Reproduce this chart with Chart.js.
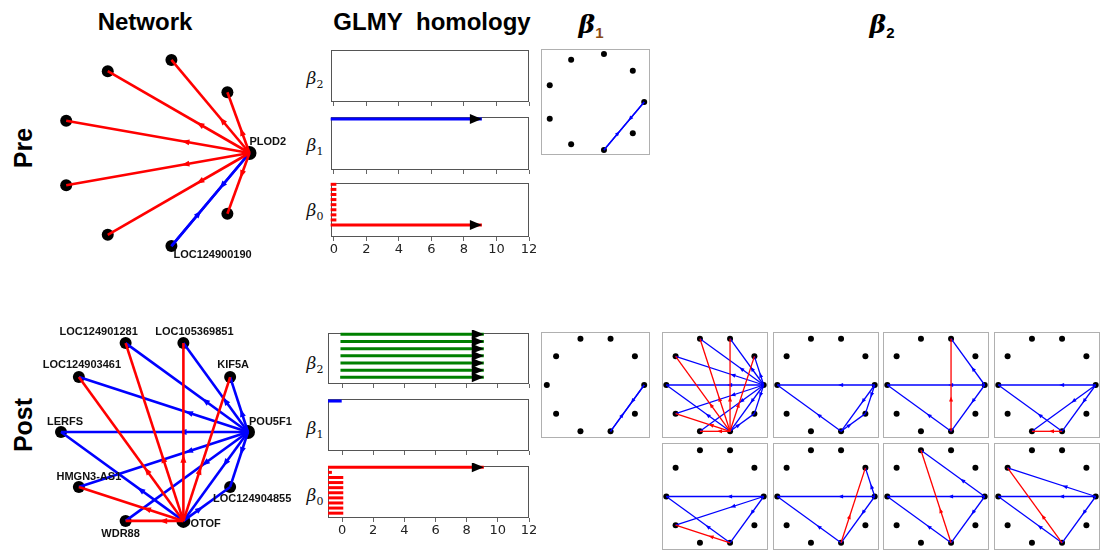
<!DOCTYPE html>
<html><head><meta charset="utf-8">
<script src="https://cdn.jsdelivr.net/npm/chart.js@4.4.1/dist/chart.umd.min.js"></script>
<style>
html,body{margin:0;padding:0;background:#fff}
#fig{position:relative;width:1102px;height:556px;overflow:hidden;font-family:"Liberation Sans",Arial,sans-serif}
.pane{position:absolute}
.pane canvas{display:block}
.txt{position:absolute;white-space:nowrap;transform:translate(-50%,-50%);color:#000;line-height:1}
.ttl{font-weight:bold;font-size:24px}
.row{font-weight:bold;font-size:25px;transform:translate(-50%,-50%) rotate(-90deg)}
.blab{font-family:"DejaVu Serif",serif;font-style:italic;font-size:17px;color:#111}
.blab sub{font-style:normal;font-size:11px;vertical-align:-4px}
.bt{font-family:"DejaVu Serif",serif;font-weight:bold;font-style:italic;font-size:25px}
.bt sub{font-family:"Liberation Sans",Arial,sans-serif;font-style:normal;font-size:15px;vertical-align:-5px}
</style></head><body><div id="fig">
<div class="txt ttl" style="left:145px;top:22px">Network</div>
<div class="txt ttl" style="left:432px;top:22px">GLMY&nbsp; homology</div>
<div class="txt bt" style="left:591px;top:26px">β<sub style="color:#8a4a12">1</sub></div>
<div class="txt bt" style="left:882px;top:26px">β<sub>2</sub></div>
<div class="txt row" style="left:23px;top:148px">Pre</div>
<div class="txt row" style="left:23px;top:425px">Post</div>
<div class="txt blab" style="left:315px;top:80px">β<sub>2</sub></div>
<div class="txt blab" style="left:315px;top:147px">β<sub>1</sub></div>
<div class="txt blab" style="left:315px;top:212px">β<sub>0</sub></div>
<div class="txt blab" style="left:315px;top:365px">β<sub>2</sub></div>
<div class="txt blab" style="left:315px;top:430px">β<sub>1</sub></div>
<div class="txt blab" style="left:315px;top:497px">β<sub>0</sub></div>
</div>
<script>
// ---------------- data ----------------
const INF_DRAW = 9.1;            // where an infinite bar is drawn to
const xTickValues = [0, 2, 4, 6, 8, 10, 12];

// Pre network: 9 nodes on a circle, index 0 at angle 0
const preNodeNames = ['PLOD2', '', '', '', '', '', '', 'LOC124900190', ''];
const preHubs = [0];
const preEdges = [[0,1,'red'],[0,2,'red'],[0,3,'red'],[0,4,'red'],[0,5,'red'],[0,6,'red'],[0,8,'red'],[0,7,'blue'],[7,0,'blue']];

// Post network: 10 nodes
const postNodeNames = ['POU5F1','KIF5A','LOC105369851','LOC124901281','LOC124903461','LERFS','HMGN3-AS1','WDR88','OTOF','LOC124904855'];
const postHubs = [0, 8];
const postEdges = [
  [0,1,'blue'],[0,2,'blue'],[0,3,'blue'],[0,4,'blue'],[0,5,'blue'],[0,6,'blue'],[0,7,'blue'],[0,8,'blue'],[0,9,'blue'],
  [8,5,'blue'],[8,9,'blue'],
  [8,3,'red'],[8,2,'red'],[8,1,'red'],[8,4,'red'],[8,6,'red'],[8,7,'red']
];

// barcodes: [birth, death]
const preBeta2 = [];
const preBeta1 = [[-0.2, Infinity]];
const preBeta0 = [[-0.2,0.15],[-0.2,0.15],[-0.2,0.15],[-0.2,0.15],[-0.2,0.15],[-0.2,0.15],[-0.2,0.15],[-0.2,0.15],[-0.2,Infinity]];
const postBeta2 = [[-0.1,Infinity],[-0.1,Infinity],[-0.1,Infinity],[-0.1,Infinity],[-0.1,Infinity],[-0.1,Infinity],[-0.12,Infinity]];
const postBeta1 = [[-0.9, -0.02]];
const postBeta0 = [[-0.9,Infinity],[-0.9,-0.65],[-0.9,0.08],[-0.9,0.08],[-0.9,0.08],[-0.9,0.08],[-0.9,0.08],[-0.9,0.08],[-0.9,0.08],[-0.9,0.08]];

// representative cycles
const preBeta1Cycle = [[0,7,'blue'],[7,0,'blue']];
const postBeta1Cycle = [[0,8,'blue'],[8,0,'blue']];
const postBeta2Cycles = [
  postEdges,
  [[0,5,'blue'],[8,5,'blue'],[0,8,'blue'],[8,9,'blue'],[0,9,'blue']],
  [[0,5,'blue'],[8,5,'blue'],[0,2,'blue'],[0,8,'blue'],[8,2,'red']],
  [[0,5,'blue'],[8,5,'blue'],[0,8,'blue'],[0,7,'blue'],[8,7,'red']],
  [[0,5,'blue'],[8,5,'blue'],[0,8,'blue'],[0,6,'blue'],[8,6,'red']],
  [[0,5,'blue'],[8,5,'blue'],[0,8,'blue'],[0,1,'blue'],[8,1,'red']],
  [[0,5,'blue'],[8,5,'blue'],[0,8,'blue'],[0,3,'blue'],[8,3,'red']],
  [[0,5,'blue'],[8,5,'blue'],[0,8,'blue'],[0,4,'blue'],[8,4,'red']]
];

// ---------------- plugins ----------------
Chart.defaults.animation = false;
Chart.defaults.font.family = '"DejaVu Sans", sans-serif';

const markPlugin = {
  id: 'marks',
  afterDatasetDraw(chart, args) {
    const ds = chart.data.datasets[args.index];
    const pts = args.meta.data;
    const ctx = chart.ctx;
    if (ds.arrowAt !== undefined && pts.length === 2) {
      const a = pts[0], b = pts[1];
      const dx = b.x - a.x, dy = b.y - a.y, len = Math.hypot(dx, dy) || 1;
      const ux = dx / len, uy = dy / len;
      const px = a.x + dx * ds.arrowAt, py = a.y + dy * ds.arrowAt;
      const L = ds.arrowLen, W = ds.arrowWid;
      ctx.save();
      ctx.fillStyle = ds.borderColor;
      ctx.beginPath();
      ctx.moveTo(px + ux * L / 2, py + uy * L / 2);
      ctx.lineTo(px - ux * L / 2 - uy * W, py - uy * L / 2 + ux * W);
      ctx.lineTo(px - ux * L / 2 + uy * W, py - uy * L / 2 - ux * W);
      ctx.closePath();
      ctx.fill();
      ctx.restore();
    }
    if (ds.infinite) {
      const b = pts[1];
      ctx.save();
      ctx.fillStyle = '#000';
      ctx.beginPath();
      ctx.moveTo(b.x, b.y);
      ctx.lineTo(b.x - 12, b.y - 5);
      ctx.lineTo(b.x - 12, b.y + 5);
      ctx.closePath();
      ctx.fill();
      ctx.restore();
    }
  },
  afterDatasetsDraw(chart) {
    const n = chart.data.datasets.length;
    const ds = chart.data.datasets[n - 1];
    if (!ds || !ds.nodeNames) return;
    const meta = chart.getDatasetMeta(n - 1);
    const ctx = chart.ctx;
    ctx.save();
    ctx.font = 'bold 11px "Liberation Sans", Arial, sans-serif';
    ctx.fillStyle = '#111';
    ctx.textBaseline = 'middle';
    ds.nodeNames.forEach((name, i) => {
      if (!name) return;
      const p = meta.data[i];
      const [dx, dy, al] = ds.labelPos[i];
      ctx.textAlign = al;
      ctx.fillText(name, p.x + dx, p.y + dy);
    });
    ctx.restore();
  }
};
const framePlugin = {
  id: 'frame',
  beforeDatasetsDraw(chart, args, opts) {
    const a = chart.chartArea, ctx = chart.ctx;
    ctx.save();
    ctx.strokeStyle = opts.color;
    ctx.lineWidth = 1;
    ctx.strokeRect(Math.round(a.left) + 0.5, Math.round(a.top) + 0.5, Math.round(a.right - a.left) - 1, Math.round(a.bottom - a.top) - 1);
    ctx.restore();
  }
};
Chart.register(markPlugin, framePlugin);

// ---------------- helpers ----------------
const fig = document.getElementById('fig');
function pane(L, T, W, H) {
  const d = document.createElement('div');
  d.className = 'pane';
  d.style.left = L + 'px'; d.style.top = T + 'px';
  d.style.width = W + 'px'; d.style.height = H + 'px';
  const c = document.createElement('canvas');
  d.appendChild(c);
  fig.appendChild(d);
  return c;
}
function ring(n) {
  const out = [];
  for (let k = 0; k < n; k++) {
    const a = 2 * Math.PI * k / n;
    out.push({ x: Math.cos(a), y: Math.sin(a) });
  }
  return out;
}
function graph(box, n, edges, opt) {
  const [L, T, W, H] = box;
  const pts = ring(n);
  const canvas = pane(L, T, W, H);
  const order = edges.filter(e => e[2] === 'red').concat(edges.filter(e => e[2] !== 'red'));
  const datasets = order.map(([a, b, c]) => ({
    data: [{ ...pts[a] }, { ...pts[b] }], showLine: true, borderColor: c, backgroundColor: c,
    borderWidth: opt.lineW, pointRadius: 0, clip: false,
    arrowAt: 0.35, arrowLen: opt.arrowLen, arrowWid: opt.arrowWid
  }));
  const hubs = opt.hubs || [];
  const nodeDs = {
    data: pts.map(p => ({ ...p })), showLine: false,
    pointRadius: pts.map((p, i) => hubs.includes(i) ? opt.hubR : opt.nodeR),
    pointBackgroundColor: '#000', pointBorderWidth: 0, clip: false
  };
  if (opt.names) { nodeDs.nodeNames = opt.names; nodeDs.labelPos = opt.labelPos; }
  datasets.push(nodeDs);
  const s = opt.s;
  new Chart(canvas, {
    type: 'scatter',
    data: { datasets },
    options: {
      responsive: true, maintainAspectRatio: false, events: [],
      layout: { padding: 0, autoPadding: false },
      scales: {
        x: { type: 'linear', display: false, min: (L - opt.cx) / s, max: (L + W - opt.cx) / s },
        y: { type: 'linear', display: false, min: (opt.cy - T - H) / s, max: (opt.cy - T) / s }
      },
      plugins: { legend: { display: false }, tooltip: { enabled: false },
        frame: opt.frame ? { color: opt.frame } : false }
    }
  });
}
function barcode(box, bars, colour, opt) {
  const [L, T, W, H] = box;
  const padX = 14, padT = 3, axisH = opt.labels ? 22 : 5;
  const canvas = pane(L - padX, T - padT, W + 2 * padX, H + padT + axisH);
  const datasets = bars.map(([b, d], i) => ({
    data: [{ x: b, y: i }, { x: isFinite(d) ? d : INF_DRAW, y: i }],
    showLine: true, borderColor: colour, borderWidth: 3, pointRadius: 0,
    infinite: !isFinite(d), clip: 4
  }));
  new Chart(canvas, {
    type: 'scatter',
    data: { datasets },
    options: {
      responsive: true, maintainAspectRatio: false, events: [],
      layout: { padding: { left: padX, right: padX, top: padT, bottom: 0 }, autoPadding: false },
      scales: {
        x: {
          type: 'linear', position: 'bottom', min: opt.xmin, max: 12,
          afterBuildTicks: sc => { sc.ticks = xTickValues.map(v => ({ value: v })); },
          afterFit: sc => { sc.height = axisH; },
          grid: { display: true, drawOnChartArea: false, drawTicks: true, tickLength: 4, color: '#666' },
          border: { display: false },
          ticks: { display: !!opt.labels, padding: 1, color: '#222', font: { size: 13 }, autoSkip: false, maxRotation: 0 }
        },
        y: { type: 'linear', display: false, reverse: true, min: opt.ymin, max: opt.ymax }
      },
      plugins: { legend: { display: false }, tooltip: { enabled: false }, frame: { color: '#555' } }
    }
  });
}

// ---------------- networks ----------------
graph([30, 30, 280, 250], 9, preEdges, {
  cx: 155, cy: 153, s: 94.5, nodeR: 6, hubR: 7, hubs: preHubs, lineW: 2.6, arrowLen: 8, arrowWid: 3,
  names: preNodeNames,
  labelPos: [[0,-11,'left'],[0,0,'left'],[0,0,'left'],[0,0,'left'],[0,0,'left'],[0,0,'left'],[0,0,'left'],[2,9,'left'],[0,0,'left']]
});
graph([20, 305, 290, 251], 10, postEdges, {
  cx: 154.5, cy: 432, s: 93.5, nodeR: 6, hubR: 7, hubs: postHubs, lineW: 2.6, arrowLen: 8, arrowWid: 3,
  names: postNodeNames,
  labelPos: [[1,-10,'left'],[3,-12,'center'],[11,-11,'center'],[-27,-11,'center'],[3,-12,'center'],
             [4,-10,'center'],[10,-10,'center'],[-5,13,'center'],[7,3,'left'],[22,12,'center']]
});

// ---------------- barcodes ----------------
barcode([331, 50, 198, 52], preBeta2, 'green', { xmin: -0.18, ymin: 0, ymax: 10 });
barcode([331, 117, 198, 53], preBeta1, 'blue', { xmin: -0.18, ymin: -0.4, ymax: 9.99 });
barcode([331, 183, 198, 54], preBeta0, 'red', { xmin: -0.18, ymin: -0.26, ymax: 10.35, labels: true });
barcode([328, 333, 201, 51], postBeta2, 'green', { xmin: -0.9, ymin: -0.18, ymax: 6.93 });
barcode([328, 399, 201, 52], postBeta1, 'blue', { xmin: -0.9, ymin: -0.4, ymax: 9.8 });
barcode([328, 466, 201, 52], postBeta0, 'red', { xmin: -0.9, ymin: -0.25, ymax: 9.95, labels: true });

// ---------------- cycle panels ----------------
const small = { s: 48.7, nodeR: 3, hubR: 3.3, lineW: 1.3, arrowLen: 5, arrowWid: 2, frame: '#b0b0b0' };
function smallPanel(box, n, edges) {
  const [L, T, W, H] = box;
  graph(box, n, edges, { ...small, cx: L + W / 2, cy: T + H / 2, hubs: [] });
}
smallPanel([541, 49, 109, 106], 9, preBeta1Cycle);
smallPanel([541, 332, 109, 106], 10, postBeta1Cycle);
postBeta2Cycles.forEach((edges, i) => {
  const col = i % 4, rowIdx = Math.floor(i / 4);
  smallPanel([662 + col * 110.5, rowIdx ? 443 : 332, 106, rowIdx ? 107 : 106], 10, edges);
});
</script>
</body></html>
